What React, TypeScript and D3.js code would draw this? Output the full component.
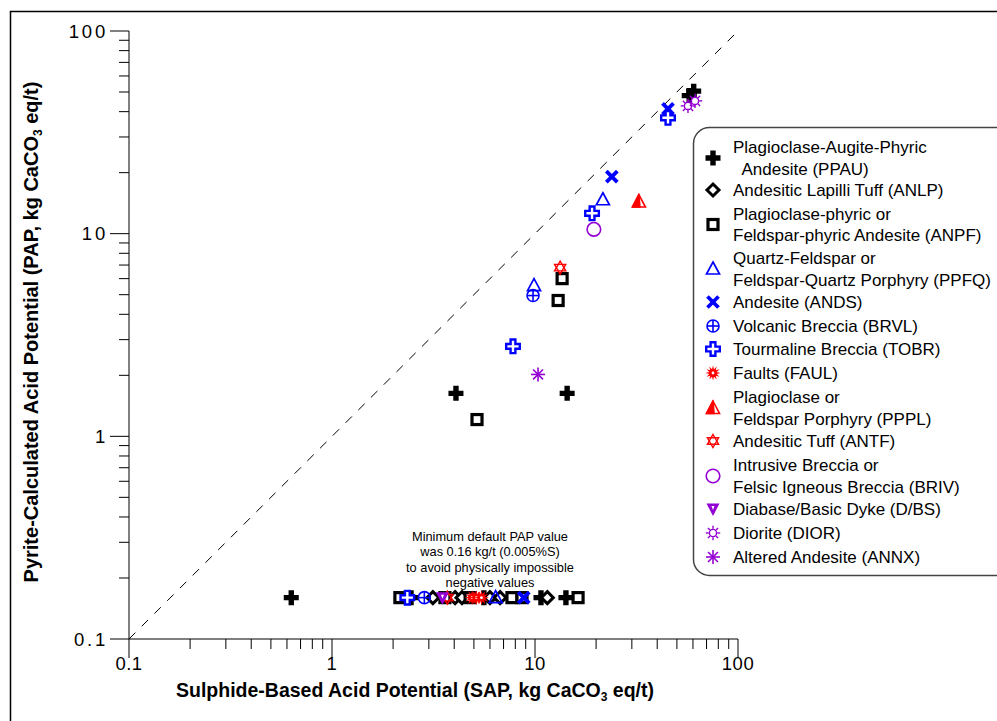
import React from "react";
import * as d3 from "d3";

// ---------- data ----------
const majorTicks = [0.1, 1, 10, 100];
const tickLabels = ["0.1", "1", "10", "100"];

const ppauSAP = [57.5, 60.5, 4.08, 14.4, 0.63, 2.45, 5.6, 10.7, 14.2];
const ppauPAP = [48, 50.5, 1.63, 1.63, 0.16, 0.16, 0.16, 0.16, 0.16];
const anlpSAP = [3.14, 4.04, 4.37, 6.0, 6.73, 11.5];
const anlpPAP = [0.16, 0.16, 0.16, 0.16, 0.16, 0.16];
const anpfSAP = [13.6, 13.0, 5.18, 2.16, 3.6, 4.79, 7.7, 8.63, 16.3];
const anpfPAP = [6.0, 4.68, 1.21, 0.16, 0.16, 0.16, 0.16, 0.16, 0.16];
const ppfqSAP = [21.6, 9.89, 6.4];
const ppfqPAP = [14.7, 5.54, 0.16];
const andsSAP = [45.2, 23.9, 8.8];
const andsPAP = [41.3, 19.1, 0.16];
const brvlSAP = [9.78, 2.85];
const brvlPAP = [4.95, 0.16];
const tobrSAP = [45.2, 19.1, 7.79, 2.35];
const tobrPAP = [37.3, 12.6, 2.78, 0.16];
const faulSAP = [4.9, 5.15, 5.45];
const faulPAP = [0.16, 0.16, 0.16];
const ppplSAP = [32.5];
const ppplPAP = [14.4];
const antfSAP = [13.3, 3.7];
const antfPAP = [6.8, 0.16];
const brivSAP = [19.5];
const brivPAP = [10.5];
const dbsSAP = [3.5];
const dbsPAP = [0.16];
const diorSAP = [56.7, 61.4];
const diorPAP = [42.7, 45.2];
const annxSAP = [10.35];
const annxPAP = [2.02];

const series = [
  { key: "PPAU", label: ["Plagioclase-Augite-Phyric", "  Andesite (PPAU)"], sap: ppauSAP, pap: ppauPAP },
  { key: "ANLP", label: ["Andesitic Lapilli Tuff (ANLP)"], sap: anlpSAP, pap: anlpPAP },
  { key: "ANPF", label: ["Plagioclase-phyric or", "Feldspar-phyric Andesite (ANPF)"], sap: anpfSAP, pap: anpfPAP },
  { key: "PPFQ", label: ["Quartz-Feldspar or", "Feldspar-Quartz Porphyry (PPFQ)"], sap: ppfqSAP, pap: ppfqPAP },
  { key: "ANDS", label: ["Andesite (ANDS)"], sap: andsSAP, pap: andsPAP },
  { key: "BRVL", label: ["Volcanic Breccia (BRVL)"], sap: brvlSAP, pap: brvlPAP },
  { key: "TOBR", label: ["Tourmaline Breccia (TOBR)"], sap: tobrSAP, pap: tobrPAP },
  { key: "FAUL", label: ["Faults (FAUL)"], sap: faulSAP, pap: faulPAP },
  { key: "PPPL", label: ["Plagioclase or", "Feldspar Porphyry (PPPL)"], sap: ppplSAP, pap: ppplPAP },
  { key: "ANTF", label: ["Andesitic Tuff (ANTF)"], sap: antfSAP, pap: antfPAP },
  { key: "BRIV", label: ["Intrusive Breccia or", "Felsic Igneous Breccia (BRIV)"], sap: brivSAP, pap: brivPAP },
  { key: "DBS", label: ["Diabase/Basic Dyke (D/BS)"], sap: dbsSAP, pap: dbsPAP },
  { key: "DIOR", label: ["Diorite (DIOR)"], sap: diorSAP, pap: diorPAP },
  { key: "ANNX", label: ["Altered Andesite (ANNX)"], sap: annxSAP, pap: annxPAP },
];

const noteLines = [
  "Minimum default PAP value",
  "was 0.16 kg/t (0.005%S)",
  "to avoid physically impossible",
  "negative values",
];

const BLUE = "#0000FF";
const RED = "#FF0000";
const PURPLE = "#9400D3";
const FONT = "'Liberation Sans', Arial, Helvetica, sans-serif";

function Marker({ type, x, y }: { type: string; x: number; y: number }) {
  const t = `translate(${x},${y})`;
  switch (type) {
    case "PPAU":
      return <path transform={t} d="M-2.7,-7.5H2.7V-2.7H7.5V2.7H2.7V7.5H-2.7V2.7H-7.5V-2.7H-2.7Z" fill="#000" />;
    case "ANLP":
      return <path transform={t} d="M0,-6L6,0L0,6L-6,0Z" fill="#fff" stroke="#000" strokeWidth={3} />;
    case "ANPF":
      return <rect transform={t} x={-5} y={-5} width={10} height={10} fill="#fff" stroke="#000" strokeWidth={3.2} />;
    case "PPFQ":
      return <path transform={t} d="M0,-7L6.5,5L-6.5,5Z" fill="none" stroke={BLUE} strokeWidth={1.7} />;
    case "ANDS":
      return (
        <g transform={t} stroke={BLUE} strokeWidth={3.8}>
          <line x1={-5.5} y1={-5.5} x2={5.5} y2={5.5} />
          <line x1={-5.5} y1={5.5} x2={5.5} y2={-5.5} />
        </g>
      );
    case "BRVL":
      return (
        <g transform={t} stroke={BLUE} strokeWidth={1.6} fill="none">
          <circle r={6} />
          <line x1={-6} y1={0} x2={6} y2={0} />
          <line x1={0} y1={-6} x2={0} y2={6} />
        </g>
      );
    case "TOBR":
      return <path transform={t} d="M-2.4,-6.8H2.4V-2.4H6.8V2.4H2.4V6.8H-2.4V2.4H-6.8V-2.4H-2.4Z" fill="#fff" stroke={BLUE} strokeWidth={2.4} />;
    case "FAUL": {
      const pts: string[] = [];
      for (let i = 0; i < 24; i++) {
        const r = i % 2 === 0 ? 7.5 : 3.8;
        const a = (Math.PI * 2 * i) / 24 - Math.PI / 2;
        pts.push(`${(r * Math.cos(a)).toFixed(2)},${(r * Math.sin(a)).toFixed(2)}`);
      }
      return (
        <g transform={t}>
          <polygon points={pts.join(" ")} fill={RED} />
          <circle r={1.4} fill="#fff" />
        </g>
      );
    }
    case "PPPL":
      return (
        <g transform={t}>
          <path d="M0,-7L6.5,5.5L-6.5,5.5Z" fill="#fff" stroke={RED} strokeWidth={1.6} />
          <path d="M0,-7L1,5.5L-6.5,5.5Z" fill={RED} stroke={RED} strokeWidth={1.6} strokeLinejoin="round" />
        </g>
      );
    case "ANTF":
      return (
        <g transform={t} fill="none" stroke={RED} strokeWidth={1.4}>
          <path d="M0,-6.5L5.6,3.25L-5.6,3.25Z" />
          <path d="M0,6.5L5.6,-3.25L-5.6,-3.25Z" />
        </g>
      );
    case "BRIV":
      return <circle transform={t} r={6.8} fill="none" stroke={PURPLE} strokeWidth={1.6} />;
    case "DBS":
      return (
        <g transform={t}>
          <path d="M-6.5,-5.5L6.5,-5.5L0,7Z" fill={PURPLE} />
          <path d="M-1.5,-3L1.5,-3L0,1Z" fill="#fff" />
        </g>
      );
    case "DIOR":
      return (
        <g transform={t} stroke={PURPLE} strokeWidth={1.4} fill="#fff">
          <circle r={3.6} />
          {d3.range(8).map((i) => {
            const a = (Math.PI * 2 * i) / 8;
            return (
              <line key={i} x1={4.2 * Math.cos(a)} y1={4.2 * Math.sin(a)} x2={7.2 * Math.cos(a)} y2={7.2 * Math.sin(a)} />
            );
          })}
        </g>
      );
    case "ANNX":
      return (
        <g transform={t} stroke={PURPLE} strokeWidth={1.6}>
          {d3.range(4).map((i) => {
            const a = (Math.PI * i) / 4;
            return <line key={i} x1={-7 * Math.cos(a)} y1={-7 * Math.sin(a)} x2={7 * Math.cos(a)} y2={7 * Math.sin(a)} />;
          })}
        </g>
      );
    default:
      return null;
  }
}

export default function App() {
  const W = 997;
  const H = 721;
  const x = d3.scaleLog().domain([0.1, 100]).range([129, 738]);
  const y = d3.scaleLog().domain([0.1, 100]).range([639, 31]);

  const minorTicks: number[] = [];
  for (const base of [0.1, 1, 10]) {
    for (let k = 2; k <= 9; k++) minorTicks.push(+(base * k).toFixed(4));
  }

  const legendRows: number[][] = [
    [147, 169], [190], [214, 235], [258, 280], [302], [326], [349], [373], [397, 419], [441], [465, 487], [509], [533], [557],
  ];

  return (
    <svg
      width={W}
      height={H}
      viewBox={`0 0 ${W} ${H}`}
      style={{ position: "absolute", left: 0, top: 0, background: "#fff" }}
      fontFamily={FONT}
    >
      <rect x={0} y={0} width={W} height={H} fill="#fff" />
      {/* outer frame */}
      <rect x={10.5} y={11.5} width={W + 20} height={H + 20} fill="none" stroke="#000" strokeWidth={1.5} />

      {/* 1:1 line */}
      <line x1={x(0.1)} y1={y(0.1)} x2={x(100)} y2={y(100)} stroke="#000" strokeWidth={1} strokeDasharray="9,9" />

      {/* y axis */}
      <line x1={x(0.1)} y1={y(100)} x2={x(0.1)} y2={y(0.1)} stroke="#000" strokeWidth={1} />
      {majorTicks.map((v) => (
        <line key={"ym" + v} x1={x(0.1) - 19} x2={x(0.1)} y1={y(v)} y2={y(v)} stroke="#000" />
      ))}
      {minorTicks.map((v) => (
        <line key={"yn" + v} x1={x(0.1) - 10} x2={x(0.1)} y1={y(v)} y2={y(v)} stroke="#000" />
      ))}
      {majorTicks.map((v, i) => (
        <text key={"yl" + v} x={x(0.1) - 21} y={y(v)} dy="0.36em" textAnchor="end" fontSize={18.5} letterSpacing={2.8}>
          {tickLabels[i]}
        </text>
      ))}

      {/* x axis */}
      <line x1={x(0.1)} y1={y(0.1)} x2={x(100)} y2={y(0.1)} stroke="#000" strokeWidth={1} />
      {majorTicks.map((v) => (
        <line key={"xm" + v} x1={x(v)} x2={x(v)} y1={y(0.1)} y2={y(0.1) + 19} stroke="#000" />
      ))}
      {minorTicks.map((v) => (
        <line key={"xn" + v} x1={x(v)} x2={x(v)} y1={y(0.1)} y2={y(0.1) + 10} stroke="#000" />
      ))}
      {majorTicks.map((v, i) => (
        <text key={"xl" + v} x={x(v)} y={663} dy="0.36em" textAnchor="middle" fontSize={18.5} letterSpacing={0.5}>
          {tickLabels[i]}
        </text>
      ))}

      {/* axis titles */}
      <text x={415} y={697} textAnchor="middle" fontSize={19.5} fontWeight="bold">
        Sulphide-Based Acid Potential (SAP, kg CaCO
        <tspan fontSize={12} dy={4}>3</tspan>
        <tspan dy={-4}> eq/t)</tspan>
      </text>
      <text transform="translate(38,332) rotate(-90)" textAnchor="middle" fontSize={20} fontWeight="bold">
        Pyrite-Calculated Acid Potential (PAP, kg CaCO
        <tspan fontSize={12} dy={4}>3</tspan>
        <tspan dy={-4}> eq/t)</tspan>
      </text>

      {/* note */}
      {noteLines.map((s, i) => (
        <text key={s} x={490} y={536 + i * 15.6} dy="0.36em" textAnchor="middle" fontSize={12.8}>
          {s}
        </text>
      ))}

      {/* points */}
      {series.map((s) => (
        <g key={s.key}>
          {s.sap.map((v, i) => (
            <Marker key={i} type={s.key} x={x(v)} y={y(s.pap[i])} />
          ))}
        </g>
      ))}

      {/* legend */}
      <rect x={693.5} y={127.5} width={330} height={448} rx={16} ry={16} fill="#fff" stroke="#444" strokeWidth={1.5} />
      {series.map((s, i) => {
        const rows = legendRows[i];
        const my = rows.length === 2 ? (rows[0] + rows[1]) / 2 : rows[0];
        return (
          <g key={"lg" + s.key}>
            <Marker type={s.key} x={713} y={my} />
            {s.label.map((ln, j) => (
              <text key={j} x={733} y={rows[j]} dy="0.36em" fontSize={17} style={{ whiteSpace: "pre" }}>
                {ln}
              </text>
            ))}
          </g>
        );
      })}
    </svg>
  );
}
